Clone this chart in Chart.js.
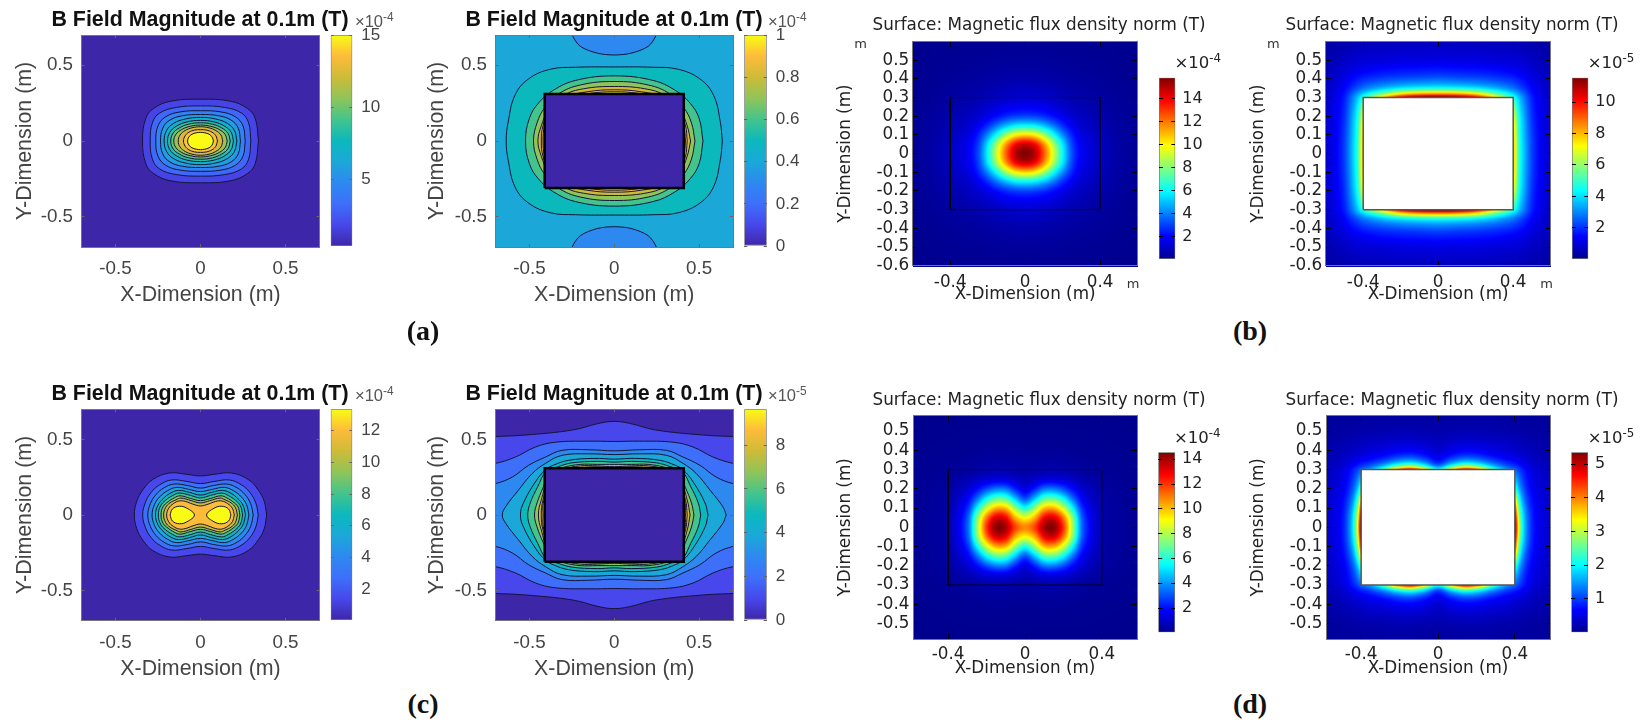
<!DOCTYPE html>
<html>
<head>
<meta charset="utf-8">
<title>B field maps</title>
<script src="https://cdn.jsdelivr.net/npm/chart.js@4"></script>
<style>
  html, body { margin: 0; background: #fff; width: 1646px; height: 725px; overflow: hidden; }
  canvas { position: absolute; }
  .txt { position: absolute; white-space: nowrap; transform: translate(-50%, -50%); }
  .exp { position: absolute; white-space: nowrap; transform: translateY(-50%); }
  .exp sup { font-size: 0.72em; vertical-align: 0.5em; line-height: 0; }
  .cap { font: bold 28px "Liberation Serif"; color: #111; }
</style>
</head>
<body>
<script>
// colour maps
const parulaStops = ['#3e26a8', '#4747eb', '#3e6ffb', '#2d89f0', '#1ba8d9', '#0bb9bd', '#43c48c', '#8fc45a', '#cdbb38', '#fdbb3a', '#f9fb15'];
const jetPos = [0, 0.125, 0.375, 0.625, 0.875, 1];
const jetCols = ['#00008f', '#0000ff', '#00ffff', '#ffff00', '#ff0000', '#800000'];
const parulaPos = parulaStops.map((c, i) => i / 10);

// tick labels
const matlabTicks = [-0.5, 0, 0.5];
const comsolXTicks = [-0.4, 0, 0.4];
const comsolYTicksTop = [-0.6, -0.5, -0.4, -0.3, -0.2, -0.1, 0, 0.1, 0.2, 0.3, 0.4, 0.5];
const comsolYTicksBottom = [-0.5, -0.4, -0.3, -0.2, -0.1, 0, 0.1, 0.2, 0.3, 0.4, 0.5];
const cbarTicksA1 = [5, 10, 15];
const cbarTicksA2 = [0, 0.2, 0.4, 0.6, 0.8, 1];
const cbarTicksC1 = [2, 4, 6, 8, 10, 12];
const cbarTicksC2 = [0, 2, 4, 6, 8];
const cbarTicksB1 = [2, 4, 6, 8, 10, 12, 14];
const cbarTicksB2 = [2, 4, 6, 8, 10];
const cbarTicksD1 = [2, 4, 6, 8, 10, 12, 14];
const cbarTicksD2 = [1, 2, 3, 4, 5];

// contours, one quadrant each (the maps are symmetric), outer to inner
const levelsA1 = [0.4, 1.73, 3.06, 4.39, 5.72, 7.05, 8.38, 9.71, 11.04, 12.37, 13.7, 15];
const contoursA1 = [
  [[0.341, 0], [0.322, 0.149], [0.276, 0.215], [0.175, 0.263], [0, 0.276]],
  [[0.296, 0], [0.283, 0.12], [0.24, 0.185], [0.14, 0.222], [0, 0.232]],
  [[0.263, 0], [0.25, 0.1], [0.205, 0.16], [0.12, 0.192], [0, 0.2]],
  [[0.235, 0], [0.222, 0.085], [0.18, 0.138], [0.105, 0.167], [0, 0.175]],
  [[0.214, 0], [0.2, 0.068], [0.16, 0.115], [0.09, 0.145], [0, 0.156]],
  [[0.194, 0], [0.18, 0.058], [0.143, 0.097], [0.08, 0.126], [0, 0.136]],
  [[0.175, 0], [0.162, 0.05], [0.125, 0.086], [0.07, 0.111], [0, 0.12]],
  [[0.157, 0], [0.145, 0.043], [0.11, 0.076], [0.06, 0.097], [0, 0.105]],
  [[0.131, 0], [0.12, 0.04], [0.09, 0.069], [0.05, 0.087], [0, 0.094]],
  [[0.1, 0], [0.09, 0.035], [0.068, 0.058], [0.035, 0.072], [0, 0.075]],
  [[0.076, 0], [0.068, 0.027], [0.05, 0.045], [0.025, 0.054], [0, 0.057]]
];

const levelsA2 = [0.4, 0.5, 0.6, 0.7, 0.8, 0.9, 1];
const contoursA2 = [
  [[0.637, 0], [0.625, 0.127], [0.585, 0.303], [0.505, 0.41], [0.376, 0.474], [0.229, 0.487], [0, 0.489]],
  [[0.523, 0], [0.5, 0.15], [0.447, 0.25], [0.359, 0.335], [0.229, 0.4], [0, 0.43]],
  [[0.476, 0], [0.455, 0.12], [0.41, 0.22], [0.33, 0.31], [0.2, 0.37], [0, 0.393]],
  [[0.45, 0], [0.43, 0.1], [0.39, 0.2], [0.3, 0.3], [0.18, 0.345], [0, 0.36]],
  [[0.43, 0], [0.42, 0.1], [0.38, 0.2], [0.28, 0.29], [0.16, 0.325], [0, 0.338]],
  [[0.42, 0], [0.41, 0.1], [0.37, 0.2], [0.26, 0.285], [0.14, 0.315], [0, 0.325]]
];
const lobeLevelA2 = 0.3;
const lobeTopA2 = [[-0.25, 0.75], [-0.248, 0.7], [-0.2, 0.625], [-0.1, 0.58], [0, 0.568], [0.1, 0.58], [0.2, 0.625], [0.248, 0.7], [0.25, 0.75], [-0.25, 0.75]];
const lobeBottomA2 = [[-0.25, -0.75], [-0.248, -0.7], [-0.2, -0.625], [-0.1, -0.578], [0, -0.566], [0.1, -0.578], [0.2, -0.625], [0.248, -0.7], [0.25, -0.75], [-0.25, -0.75]];

const levelsC1 = [0.05, 1.38, 2.71, 4.04, 5.37, 6.7, 8.03, 9.36, 10.69, 12.02, 13.35];
const contoursC1 = [
  [[0.389, 0], [0.375, 0.09], [0.34, 0.165], [0.281, 0.235], [0.183, 0.278], [0.085, 0.27], [0, 0.259]],
  [[0.34, 0], [0.325, 0.08], [0.29, 0.15], [0.24, 0.2], [0.17, 0.232], [0.08, 0.222], [0, 0.208]],
  [[0.31, 0], [0.295, 0.075], [0.262, 0.135], [0.215, 0.18], [0.155, 0.205], [0.075, 0.195], [0, 0.178]],
  [[0.285, 0], [0.27, 0.07], [0.24, 0.12], [0.195, 0.16], [0.14, 0.183], [0.07, 0.17], [0, 0.155]],
  [[0.265, 0], [0.25, 0.065], [0.22, 0.108], [0.18, 0.143], [0.13, 0.163], [0.065, 0.15], [0, 0.132]],
  [[0.248, 0], [0.235, 0.06], [0.205, 0.098], [0.165, 0.128], [0.125, 0.145], [0.06, 0.13], [0, 0.113]],
  [[0.232, 0], [0.22, 0.055], [0.19, 0.088], [0.155, 0.113], [0.12, 0.127], [0.06, 0.11], [0, 0.095]],
  [[0.217, 0], [0.205, 0.05], [0.18, 0.08], [0.145, 0.1], [0.115, 0.112], [0.055, 0.095], [0, 0.08]],
  [[0.199, 0], [0.187, 0.045], [0.16, 0.075], [0.125, 0.093], [0.09, 0.09], [0.045, 0.072], [0, 0.06]]
];
const lobeRightC1 = [[0.179, 0], [0.165, 0.04], [0.125, 0.058], [0.08, 0.045], [0.036, 0], [0.08, -0.045], [0.125, -0.058], [0.165, -0.04], [0.179, 0]];
const lobeLeftC1 = [[-0.179, 0], [-0.165, 0.04], [-0.125, 0.058], [-0.08, 0.045], [-0.036, 0], [-0.08, -0.045], [-0.125, -0.058], [-0.165, -0.04], [-0.179, 0]];

const levelsC2 = [0, 0.96, 1.93, 2.89, 3.86, 4.82, 5.78, 6.75, 7.71, 8.68, 9.64];
const contoursC2 = [
  [[0.75, 0], [0.75, 0.52], [0.7, 0.52], [0.52, 0.53], [0.245, 0.563], [0.09, 0.607], [0, 0.62]],
  [[0.75, 0], [0.75, 0.342], [0.7, 0.342], [0.582, 0.384], [0.465, 0.45], [0.347, 0.482], [0.15, 0.489], [0, 0.487]],
  [[0.75, 0], [0.75, 0.208], [0.7, 0.208], [0.6, 0.252], [0.505, 0.329], [0.405, 0.384], [0.308, 0.428], [0.15, 0.432], [0, 0.425]],
  [[0.66, 0], [0.64, 0.055], [0.565, 0.164], [0.484, 0.274], [0.405, 0.342], [0.308, 0.395], [0.15, 0.405], [0, 0.4]],
  [[0.553, 0], [0.535, 0.08], [0.465, 0.219], [0.405, 0.3], [0.36, 0.329], [0.27, 0.362], [0.12, 0.375], [0, 0.37]],
  [[0.51, 0], [0.495, 0.08], [0.45, 0.19], [0.4, 0.29], [0.33, 0.32], [0.25, 0.345], [0.1, 0.355], [0, 0.35]],
  [[0.47, 0], [0.455, 0.08], [0.42, 0.18], [0.38, 0.28], [0.3, 0.315], [0.2, 0.335], [0.1, 0.335], [0, 0.335]],
  [[0.447, 0], [0.43, 0.1], [0.39, 0.22], [0.3, 0.3], [0.2, 0.325], [0.1, 0.325], [0, 0.32]],
  [[0.43, 0], [0.42, 0.1], [0.38, 0.21], [0.28, 0.295], [0.15, 0.318], [0, 0.315]],
  [[0.42, 0], [0.412, 0.1], [0.3, 0.28], [0.15, 0.312], [0, 0.31]]
];

// blocks in the middle of the plots
const blockMatlab = [[-0.41, -0.31], [0.41, -0.31], [0.41, 0.31], [-0.41, 0.31], [-0.41, -0.31]];
const blockComsol = [[-0.4, -0.3], [0.4, -0.3], [0.4, 0.3], [-0.4, 0.3], [-0.4, -0.3]];
const plotCover = [[-0.8, -0.8], [0.8, -0.8], [0.8, 0.8], [-0.8, 0.8], [-0.8, -0.8]];

// surface values, |x| along rows and |y| down columns
const xB1 = [0, 0.05, 0.1, 0.15, 0.2, 0.25, 0.3, 0.4, 0.5, 0.6];
const yB1 = [0, 0.05, 0.1, 0.15, 0.2, 0.25, 0.3, 0.4, 0.5, 0.6];
const surfB1 = [
  [15.8, 15, 12.5, 9.3, 6, 3.2, 1.9, 1, 0.45, 0.2],
  [14.6, 13.9, 11.6, 8.6, 5.6, 3, 1.8, 0.95, 0.43, 0.2],
  [10.5, 10, 8.5, 6.3, 4.2, 2.5, 1.55, 0.85, 0.4, 0.2],
  [6, 5.8, 5, 3.9, 2.7, 1.8, 1.2, 0.72, 0.36, 0.18],
  [3.1, 3, 2.7, 2.2, 1.7, 1.25, 0.95, 0.6, 0.32, 0.16],
  [1.9, 1.85, 1.7, 1.45, 1.15, 0.9, 0.72, 0.48, 0.27, 0.14],
  [1.25, 1.2, 1.1, 0.98, 0.8, 0.65, 0.55, 0.38, 0.22, 0.12],
  [0.6, 0.58, 0.55, 0.5, 0.43, 0.37, 0.32, 0.24, 0.15, 0.09],
  [0.3, 0.3, 0.28, 0.27, 0.24, 0.21, 0.19, 0.15, 0.1, 0.06],
  [0.15, 0.15, 0.15, 0.14, 0.13, 0.12, 0.11, 0.09, 0.07, 0.05]
];

const xB2 = [0, 0.1, 0.2, 0.3, 0.4, 0.43, 0.46, 0.5, 0.55, 0.6];
const yB2 = [0, 0.1, 0.2, 0.3, 0.32, 0.35, 0.4, 0.45, 0.5, 0.6];
const surfB2 = [
  [7.8, 7.8, 7.8, 7.8, 7.8, 5, 3.6, 2.2, 1.3, 0.8],
  [7.6, 7.6, 7.6, 7.6, 7.6, 4.9, 3.5, 2.15, 1.3, 0.8],
  [6.8, 6.8, 6.8, 6.8, 6.8, 4.6, 3.3, 2, 1.25, 0.78],
  [11.5, 11.2, 10, 7.5, 4.8, 3.7, 2.8, 1.8, 1.15, 0.72],
  [8.5, 8.3, 7.5, 5.7, 3.9, 3.2, 2.5, 1.65, 1.08, 0.7],
  [4.6, 4.5, 4.2, 3.6, 2.8, 2.4, 2, 1.45, 1, 0.65],
  [2.6, 2.5, 2.4, 2.2, 1.9, 1.7, 1.5, 1.15, 0.85, 0.58],
  [1.7, 1.65, 1.6, 1.5, 1.3, 1.2, 1.1, 0.9, 0.7, 0.5],
  [1.15, 1.1, 1.1, 1, 0.95, 0.9, 0.82, 0.7, 0.55, 0.42],
  [0.6, 0.6, 0.58, 0.55, 0.5, 0.48, 0.45, 0.4, 0.35, 0.28]
];

const xD1 = [0, 0.05, 0.1, 0.15, 0.2, 0.25, 0.3, 0.4, 0.5, 0.6];
const yD1 = [0, 0.05, 0.1, 0.15, 0.2, 0.25, 0.3, 0.4, 0.5, 0.6];
const surfD1 = [
  [10.8, 11.8, 14, 14.4, 12, 7.6, 3.2, 0.6, 0.25, 0.1],
  [9, 10.2, 12.8, 13.2, 11, 7.2, 3, 0.6, 0.25, 0.1],
  [5.8, 7.6, 10, 10.2, 8.4, 5.4, 2.4, 0.55, 0.22, 0.1],
  [3, 4.6, 6.6, 6.8, 5.5, 3.4, 1.7, 0.48, 0.2, 0.09],
  [1.4, 2.3, 3.5, 3.6, 2.9, 1.9, 1.1, 0.38, 0.18, 0.09],
  [0.75, 1, 1.3, 1.35, 1.2, 0.9, 0.6, 0.28, 0.15, 0.08],
  [0.4, 0.48, 0.55, 0.58, 0.52, 0.42, 0.32, 0.18, 0.11, 0.07],
  [0.15, 0.16, 0.18, 0.18, 0.17, 0.14, 0.12, 0.09, 0.07, 0.05],
  [0.08, 0.08, 0.08, 0.08, 0.08, 0.07, 0.07, 0.06, 0.05, 0.04],
  [0.05, 0.05, 0.05, 0.05, 0.05, 0.05, 0.04, 0.04, 0.04, 0.03]
];

const xD2 = [0, 0.07, 0.14, 0.21, 0.28, 0.35, 0.4, 0.42, 0.45, 0.5, 0.6];
const yD2 = [0, 0.07, 0.14, 0.21, 0.3, 0.31, 0.33, 0.36, 0.4, 0.5, 0.6];
const surfD2 = [
  [5, 5, 5, 5, 5, 5, 5.2, 3.2, 1.7, 0.75, 0.32],
  [4.7, 4.7, 4.7, 4.7, 4.7, 4.7, 4.7, 2.9, 1.6, 0.72, 0.32],
  [3.6, 3.6, 3.6, 3.6, 3.6, 3.6, 3.6, 2.3, 1.3, 0.65, 0.3],
  [2.2, 2.2, 2.2, 2.2, 2.2, 2.2, 2.2, 1.6, 1, 0.55, 0.28],
  [2.2, 3.6, 4.9, 4.2, 2.6, 1.6, 1.2, 1, 0.75, 0.45, 0.24],
  [1.7, 2.8, 3.7, 3.2, 2.1, 1.35, 1.05, 0.9, 0.68, 0.42, 0.23],
  [1, 1.7, 2.2, 1.95, 1.4, 1, 0.8, 0.7, 0.55, 0.36, 0.21],
  [0.6, 0.95, 1.2, 1.1, 0.85, 0.65, 0.55, 0.5, 0.42, 0.3, 0.18],
  [0.4, 0.55, 0.65, 0.62, 0.52, 0.45, 0.38, 0.35, 0.31, 0.24, 0.15],
  [0.18, 0.2, 0.22, 0.22, 0.2, 0.18, 0.17, 0.16, 0.14, 0.12, 0.09],
  [0.09, 0.09, 0.1, 0.1, 0.1, 0.09, 0.09, 0.08, 0.08, 0.07, 0.05]
];

// helpers

function hexRgb(h) {
  return [parseInt(h.slice(1, 3), 16), parseInt(h.slice(3, 5), 16), parseInt(h.slice(5, 7), 16)];
}

function mapColor(pos, cols, t) {
  t = Math.min(1, Math.max(0, t));
  let i = 0;
  while (i < pos.length - 2 && t > pos[i + 1]) i++;
  const f = (t - pos[i]) / (pos[i + 1] - pos[i]);
  const a = hexRgb(cols[i]), b = hexRgb(cols[i + 1]);
  return [0, 1, 2].map(k => a[k] + (b[k] - a[k]) * f);
}

function parula(t) {
  const c = mapColor(parulaPos, parulaStops, t);
  return `rgb(${c[0]},${c[1]},${c[2]})`;
}

// closes a quadrant into a full loop
function loop(q) {
  const pts = [
    ...q,
    ...q.slice(0, -1).reverse().map(([x, y]) => [-x, y]),
    ...q.slice(1).map(([x, y]) => [-x, -y]),
    ...q.slice(0, -1).reverse().map(([x, y]) => [x, -y])
  ];
  return pts.map(([x, y]) => ({ x, y }));
}

function toPoints(list) {
  return list.map(([x, y]) => ({ x, y }));
}

function contourSet(contours, levels, cmin, cmax) {
  const sets = [{ data: toPoints(plotCover), fill: 'shape', backgroundColor: parula((levels[0] - cmin) / (cmax - cmin)), borderWidth: 0, tension: 0 }];
  contours.forEach((c, i) => {
    sets.push({ data: loop(c), fill: 'shape', backgroundColor: parula((levels[i + 1] - cmin) / (cmax - cmin)), borderColor: '#15153a', borderWidth: 1, tension: 0.4 });
  });
  return sets;
}

function blockSet(points, fillCol, lineCol, width) {
  return { data: toPoints(points), fill: fillCol ? 'shape' : false, backgroundColor: fillCol || 'transparent', borderColor: lineCol, borderWidth: width, tension: 0 };
}

function hermite(xs, vals, x) {
  const last = xs.length - 1;
  let i = 0;
  while (i < last - 1 && x > xs[i + 1]) i++;
  const h = xs[i + 1] - xs[i];
  const t = Math.min(1, (x - xs[i]) / h);
  const slope = k => k === 0 ? 0 : k === last ? (vals[k] - vals[k - 1]) / (xs[k] - xs[k - 1]) : (vals[k + 1] - vals[k - 1]) / (xs[k + 1] - xs[k - 1]);
  const t2 = t * t, t3 = t2 * t;
  return (2 * t3 - 3 * t2 + 1) * vals[i] + (t3 - 2 * t2 + t) * h * slope(i) + (-2 * t3 + 3 * t2) * vals[i + 1] + (t3 - t2) * h * slope(i + 1);
}

// paints the surface table under the datasets, through the chart's scales
const surfacePlugin = {
  id: 'surface',
  beforeDatasetsDraw(chart) {
    const ds = chart.data.datasets.find(d => d.surface);
    if (!ds) return;
    const { xs, ys, values, cmin, cmax } = ds.surface;
    const area = chart.chartArea;
    const w = Math.ceil(area.width), h = Math.ceil(area.height);
    const off = document.createElement('canvas');
    off.width = w; off.height = h;
    const octx = off.getContext('2d');
    const img = octx.createImageData(w, h);
    for (let px = 0; px < w; px++) {
      const x = Math.abs(chart.scales.x.getValueForPixel(area.left + px + 0.5));
      const col = values.map(row => hermite(xs, row, x));
      for (let py = 0; py < h; py++) {
        const y = Math.abs(chart.scales.y.getValueForPixel(area.top + py + 0.5));
        const c = mapColor(jetPos, jetCols, (hermite(ys, col, y) - cmin) / (cmax - cmin));
        const o = (py * w + px) * 4;
        img.data[o] = c[0]; img.data[o + 1] = c[1]; img.data[o + 2] = c[2]; img.data[o + 3] = 255;
      }
    }
    octx.putImageData(img, 0, 0);
    chart.ctx.drawImage(off, area.left, area.top);
  }
};

function setTicks(list) {
  return scale => { scale.ticks = list.map(v => ({ value: v })); };
}

function addCanvas(left, top, w, h) {
  const c = document.createElement('canvas');
  c.width = w; c.height = h;
  c.style.left = left + 'px'; c.style.top = top + 'px';
  c.style.width = w + 'px'; c.style.height = h + 'px';
  document.body.appendChild(c);
  return c.getContext('2d');
}

function drawPanel(p) {
  const [l, t, r, b] = p.box;
  const s = p.style;
  const labLh = s.labelSize * 1.2, titLh = s.titleSize * 1.2;
  const W = 520;
  const left = Math.round(p.titleX) - W / 2;
  const top = Math.floor(p.titleY - titLh / 2);
  const bottomEdge = p.xTitleY + labLh / 2;
  const H = Math.ceil(bottomEdge - top);
  const tickFont = { family: s.family, size: s.tickSize };
  const labelFont = { family: s.family, size: s.labelSize };
  const datasets = p.datasets.map((d, i) => Object.assign({ showLine: true, pointRadius: 0, order: p.datasets.length - i }, d));
  const gridOpts = { drawOnChartArea: false, drawTicks: true, tickLength: -s.tickLen, color: s.markColor, z: 1 };
  const borderOpts = { display: true, color: s.lineColor, width: 1, z: 2 };

  new Chart(addCanvas(left, top, W, H), {
    type: 'scatter',
    data: { datasets },
    options: {
      responsive: false,
      animation: false,
      events: [],
      layout: {
        autoPadding: false,
        padding: { top: p.titleY - titLh / 2 - top, bottom: H - (bottomEdge - top), left: 0, right: 0 }
      },
      plugins: {
        legend: { display: false },
        tooltip: { enabled: false },
        title: {
          display: true,
          text: p.title,
          color: s.titleColor,
          font: { family: s.family, size: s.titleSize, weight: s.titleWeight, lineHeight: 1.2 },
          padding: { top: 0, bottom: t - (p.titleY + titLh / 2) }
        }
      },
      scales: {
        x: {
          position: 'bottom', min: p.xr[0], max: p.xr[1],
          afterBuildTicks: setTicks(p.xTicks),
          afterFit: sc => { sc.height = bottomEdge - b; },
          ticks: { autoSkip: false, maxRotation: 0, font: tickFont, color: s.tickColor, padding: p.xTickY - b + s.tickLen - s.tickSize * 0.55, callback: v => String(v) },
          grid: gridOpts,
          border: borderOpts,
          title: { display: true, text: 'X-Dimension (m)', color: s.tickColor, font: labelFont, padding: 0 }
        },
        y: {
          position: 'left', min: p.yr[0], max: p.yr[1],
          afterBuildTicks: setTicks(p.yTicks),
          afterFit: sc => { sc.width = l - left; },
          ticks: { autoSkip: false, font: tickFont, color: s.tickColor, padding: p.yTickGap + s.tickLen, callback: v => String(v) },
          grid: gridOpts,
          border: borderOpts,
          title: { display: true, text: 'Y-Dimension (m)', color: s.tickColor, font: labelFont, padding: { top: p.yTitleX - labLh / 2 - left, bottom: 0 } }
        },
        xTop: {
          axis: 'x', position: 'top', min: p.xr[0], max: p.xr[1],
          afterBuildTicks: setTicks(p.xTicks),
          afterFit: sc => { sc.height = 0; },
          ticks: { display: false }, grid: gridOpts, border: borderOpts
        },
        yRight: {
          axis: 'y', position: 'right', min: p.yr[0], max: p.yr[1],
          afterBuildTicks: setTicks(p.yTicks),
          afterFit: sc => { sc.width = left + W - r; },
          ticks: { display: false }, grid: gridOpts, border: borderOpts
        }
      }
    },
    plugins: [surfacePlugin]
  });
}

function drawColorbar(c) {
  const [l, t, r, b] = c.box;
  const s = c.style;
  const pad = 32, labelW = 60;
  const left = Math.floor(l) - 1;
  const top = Math.floor(t) - pad;
  const W = Math.ceil(r - left) + labelW + 1;
  const H = Math.ceil(b - top) + pad;
  new Chart(addCanvas(left, top, W, H), {
    type: 'bar',
    data: {
      labels: ['field'],
      datasets: [{
        data: [[c.range[0], c.range[1]]],
        barPercentage: 1,
        categoryPercentage: 1,
        borderWidth: 1,
        borderColor: s.lineColor,
        borderSkipped: false,
        backgroundColor(ctx) {
          const area = ctx.chart.chartArea;
          if (!area) return null;
          const g = ctx.chart.ctx.createLinearGradient(0, area.bottom, 0, area.top);
          c.pos.forEach((p, i) => g.addColorStop(p, c.cols[i]));
          return g;
        }
      }]
    },
    options: {
      responsive: false,
      animation: false,
      events: [],
      layout: {
        autoPadding: false,
        padding: { left: l - left, top: t - top, bottom: H - (b - top), right: W - (r - left) - labelW }
      },
      plugins: { legend: { display: false }, tooltip: { enabled: false }, title: { display: false } },
      scales: {
        x: { display: false },
        y: {
          position: 'right', min: c.range[0], max: c.range[1],
          afterBuildTicks: setTicks(c.ticks),
          afterFit: sc => { sc.width = labelW; },
          ticks: { autoSkip: false, font: { family: s.family, size: s.barTickSize }, color: s.tickColor, padding: s.barGap + s.barTickLen, callback: v => String(v) },
          grid: { drawOnChartArea: false, drawTicks: true, tickLength: -s.barTickLen, color: s.markColor, z: 1 },
          border: { display: false }
        },
        yLeft: {
          axis: 'y', position: 'left', min: c.range[0], max: c.range[1],
          afterBuildTicks: setTicks(c.ticks),
          afterFit: sc => { sc.width = 0; },
          ticks: { display: false },
          grid: { drawOnChartArea: false, drawTicks: true, tickLength: -s.barTickLen, color: s.markColor, z: 1 },
          border: { display: false }
        }
      }
    }
  });
}

function addText(cls, html, x, y, css) {
  const d = document.createElement('div');
  d.className = cls;
  d.innerHTML = html;
  d.style.left = x + 'px';
  d.style.top = y + 'px';
  Object.assign(d.style, css || {});
  document.body.appendChild(d);
}

const matlabStyle = { family: '"Liberation Sans"', titleSize: 21.4, titleWeight: 'bold', titleColor: '#111', labelSize: 21.4, tickSize: 18.8, barTickSize: 17, tickColor: '#444', markColor: '#666', lineColor: '#777', tickLen: 3, barTickLen: 3, barGap: 9 };
const comsolStyle = { family: '"DejaVu Sans"', titleSize: 16.8, titleWeight: 'normal', titleColor: '#222', labelSize: 16.8, tickSize: 16.8, barTickSize: 16, tickColor: '#222', markColor: '#000', lineColor: '#777', tickLen: 5, barTickLen: 4, barGap: 7 };

const rowA = { titleY: 20, xTickY: 268, xTitleY: 295 };
const rowC = { titleY: 394, xTickY: 641.7, xTitleY: 669 };
const rowB = { titleY: 26, xTickY: 281.7, xTitleY: 295 };
const rowD = { titleY: 400.7, xTickY: 654, xTitleY: 668.3 };

const matlabTitle = 'B Field Magnitude at 0.1m (T)';
const comsolTitle = 'Surface: Magnetic flux density norm (T)';
const fullRange = [-0.7, 0.7];

drawPanel({ ...rowA, style: matlabStyle, title: matlabTitle, box: [81.5, 35, 319.5, 247], titleX: 200, yTitleX: 24.7, yTickGap: 8.5, xr: fullRange, yr: fullRange, xTicks: matlabTicks, yTicks: matlabTicks,
  datasets: contourSet(contoursA1, levelsA1, 0.4, 15) });

drawPanel({ ...rowA, style: matlabStyle, title: matlabTitle, box: [495.5, 35, 733, 247], titleX: 614, yTitleX: 436.7, yTickGap: 8.5, xr: fullRange, yr: fullRange, xTicks: matlabTicks, yTicks: matlabTicks,
  datasets: [
    ...contourSet(contoursA2, levelsA2, 0, 1),
    { data: toPoints(lobeTopA2), fill: 'shape', backgroundColor: parula(lobeLevelA2), borderColor: '#15153a', borderWidth: 1, tension: 0.3 },
    { data: toPoints(lobeBottomA2), fill: 'shape', backgroundColor: parula(lobeLevelA2), borderColor: '#15153a', borderWidth: 1, tension: 0.3 },
    blockSet(blockMatlab, parula(0), '#000', 2.5)
  ] });

drawPanel({ ...rowC, style: matlabStyle, title: matlabTitle, box: [81.5, 409.3, 319.5, 620.7], titleX: 200, yTitleX: 24.7, yTickGap: 8.5, xr: fullRange, yr: fullRange, xTicks: matlabTicks, yTicks: matlabTicks,
  datasets: [
    ...contourSet(contoursC1, levelsC1, 0.05, 13.35),
    { data: toPoints(lobeRightC1), fill: 'shape', backgroundColor: parula(1), borderColor: '#15153a', borderWidth: 1, tension: 0.4 },
    { data: toPoints(lobeLeftC1), fill: 'shape', backgroundColor: parula(1), borderColor: '#15153a', borderWidth: 1, tension: 0.4 }
  ] });

drawPanel({ ...rowC, style: matlabStyle, title: matlabTitle, box: [495.5, 409.3, 733, 620.7], titleX: 614, yTitleX: 436.7, yTickGap: 8.5, xr: fullRange, yr: fullRange, xTicks: matlabTicks, yTicks: matlabTicks,
  datasets: [...contourSet(contoursC2, levelsC2, 0, 9.64), blockSet(blockMatlab, parula(0), '#000', 2.5)] });

drawPanel({ ...rowB, style: comsolStyle, title: comsolTitle, box: [912.7, 41.5, 1137.7, 265.7], titleX: 1038.8, yTitleX: 846, yTickGap: 3.5, xr: [-0.6, 0.6], yr: [-0.6, 0.6], xTicks: comsolXTicks, yTicks: comsolYTicksTop,
  datasets: [
    { data: [], surface: { xs: xB1, ys: yB1, values: surfB1, cmin: 0.06, cmax: 15.83 } },
    blockSet(blockComsol, null, '#000', 1)
  ] });

drawPanel({ ...rowB, style: comsolStyle, title: comsolTitle, box: [1325.7, 41.5, 1550.7, 265.7], titleX: 1451.7, yTitleX: 1259, yTickGap: 3.5, xr: [-0.6, 0.6], yr: [-0.6, 0.6], xTicks: comsolXTicks, yTicks: comsolYTicksTop,
  datasets: [
    { data: [], surface: { xs: xB2, ys: yB2, values: surfB2, cmin: 0.02, cmax: 11.55 } },
    blockSet(blockComsol, '#fff', '#555', 1.5)
  ] });

drawPanel({ ...rowD, style: comsolStyle, title: comsolTitle, box: [913, 415.7, 1137, 639], titleX: 1038.8, yTitleX: 846, yTickGap: 3.5, xr: [-0.583, 0.583], yr: [-0.58, 0.58], xTicks: comsolXTicks, yTicks: comsolYTicksBottom,
  datasets: [
    { data: [], surface: { xs: xD1, ys: yD1, values: surfD1, cmin: 0.04, cmax: 14.56 } },
    blockSet(blockComsol, null, '#000', 1)
  ] });

drawPanel({ ...rowD, style: comsolStyle, title: comsolTitle, box: [1326, 415.7, 1550, 639], titleX: 1451.7, yTitleX: 1259, yTickGap: 3.5, xr: [-0.583, 0.583], yr: [-0.58, 0.58], xTicks: comsolXTicks, yTicks: comsolYTicksBottom,
  datasets: [
    { data: [], surface: { xs: xD2, ys: yD2, values: surfD2, cmin: 0, cmax: 5.35 } },
    blockSet(blockComsol, '#fff', '#555', 1.5)
  ] });

const parulaBar = { pos: parulaPos, cols: parulaStops, style: matlabStyle };
const jetBar = { pos: jetPos, cols: jetCols, style: comsolStyle };

drawColorbar({ ...parulaBar, box: [330.7, 35.3, 352.3, 246], range: [0.4, 15], ticks: cbarTicksA1 });
drawColorbar({ ...parulaBar, box: [744.3, 35.3, 766.7, 246], range: [0, 1], ticks: cbarTicksA2 });
drawColorbar({ ...parulaBar, box: [330.7, 409.3, 352.3, 620], range: [0.05, 13.35], ticks: cbarTicksC1 });
drawColorbar({ ...parulaBar, box: [744.3, 409.3, 766.7, 620], range: [0, 9.64], ticks: cbarTicksC2 });
drawColorbar({ ...jetBar, box: [1159, 77.7, 1175.3, 259], range: [0.06, 15.83], ticks: cbarTicksB1 });
drawColorbar({ ...jetBar, box: [1572, 77.7, 1588.3, 259], range: [0.02, 11.55], ticks: cbarTicksB2 });
drawColorbar({ ...jetBar, box: [1158.3, 452.3, 1175, 632.3], range: [0.04, 14.56], ticks: cbarTicksD1 });
drawColorbar({ ...jetBar, box: [1571.3, 452.3, 1588, 632.3], range: [0, 5.35], ticks: cbarTicksD2 });

// scale factors above the colour bars
const matlabExp = { font: '16.5px "Liberation Sans"', color: '#555' };
const comsolExp = { font: '16.5px "DejaVu Sans"', color: '#222' };
addText('exp', '×10<sup>-4</sup>', 355, 21, matlabExp);
addText('exp', '×10<sup>-4</sup>', 768, 21, matlabExp);
addText('exp', '×10<sup>-4</sup>', 355, 395, matlabExp);
addText('exp', '×10<sup>-5</sup>', 768, 395, matlabExp);
addText('exp', '×10<sup>-4</sup>', 1174.5, 62, comsolExp);
addText('exp', '×10<sup>-5</sup>', 1587.7, 62, comsolExp);
addText('exp', '×10<sup>-4</sup>', 1174, 436.7, comsolExp);
addText('exp', '×10<sup>-5</sup>', 1587.7, 436.7, comsolExp);

// axis unit marks on the top row
const unitCss = { font: '13px "DejaVu Sans"', color: '#333' };
addText('txt', 'm', 860.7, 43, unitCss);
addText('txt', 'm', 1133, 282.7, unitCss);
addText('txt', 'm', 1273.3, 43, unitCss);
addText('txt', 'm', 1546.7, 282.7, unitCss);

addText('txt cap', '(a)', 423, 331);
addText('txt cap', '(b)', 1250, 331);
addText('txt cap', '(c)', 423, 704);
addText('txt cap', '(d)', 1250, 704);
</script>
</body>
</html>
